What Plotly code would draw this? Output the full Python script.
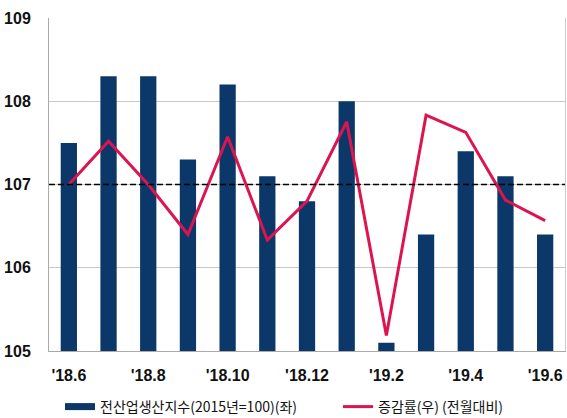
import plotly.graph_objects as go

months = ["'18.6", "'18.7", "'18.8", "'18.9", "'18.10", "'18.11", "'18.12",
          "'19.1", "'19.2", "'19.3", "'19.4", "'19.5", "'19.6"]
index_vals = [107.5, 108.3, 108.3, 107.3, 108.2, 107.1, 106.8,
              108.0, 105.1, 106.4, 107.4, 107.1, 106.4]
mom_change = [0.0, 0.78, 0.0, -0.9, 0.86, -1.0, -0.3,
              1.13, -2.72, 1.25, 0.94, -0.28, -0.65]
shown_ticks = months[::2]
left_ticks = [105, 106, 107, 108, 109]

bar_name = "전산업생산지수(2015년=100)(좌)"
line_name = "증감률(우) (전월대비)"

bar_color = "#0b3868"
line_color = "#dc1450"

fig = go.Figure()
fig.add_trace(go.Bar(x=months, y=index_vals, name=bar_name,
                     marker=dict(color=bar_color, line=dict(width=0)),
                     showlegend=False, yaxis="y"))
# legend stand-in for the bar series (wide rectangle symbol)
fig.add_trace(go.Scatter(x=[months[0]], y=[None], name=bar_name, mode="lines",
                         line=dict(color=bar_color, width=7), yaxis="y",
                         hoverinfo="skip", legend="legend"))
fig.add_trace(go.Scatter(x=months, y=mom_change, name=line_name, mode="lines",
                         line=dict(color=line_color, width=3), yaxis="y2",
                         legend="legend2"))

fig.add_shape(type="line", xref="paper", yref="y", x0=0, x1=1, y0=107, y1=107,
              line=dict(color="black", width=1.3, dash="6px,3px"), layer="above")

legend_font = dict(family="Noto Sans CJK KR", size=14, color="#111")
fig.update_layout(
    width=567, height=418,
    margin=dict(l=49, r=2, t=18, b=67, autoexpand=False),
    paper_bgcolor="white", plot_bgcolor="white",
    bargap=0.59,
    showlegend=True,
    legend=dict(orientation="h", xref="container", yref="container",
                x=60 / 567, y=1 - 407 / 418, xanchor="left", yanchor="middle",
                font=legend_font, bgcolor="rgba(0,0,0,0)"),
    legend2=dict(orientation="h", xref="container", yref="container",
                 x=338 / 567, y=1 - 407 / 418, xanchor="left", yanchor="middle",
                 font=legend_font, bgcolor="rgba(0,0,0,0)"),
    xaxis=dict(type="category", tickvals=shown_ticks, ticktext=shown_ticks,
               showgrid=False, showline=True, linecolor="#aaaaaa", linewidth=1,
               ticks="", ticklabelstandoff=10,
               tickfont=dict(family="Liberation Sans", size=16,
                             color="#111", weight="bold"),
               range=[-0.5, 12.5]),
    yaxis=dict(range=[105, 109], tickvals=left_ticks, ticktext=[str(t) for t in left_ticks],
               showgrid=True, gridcolor="#c8c8c8", gridwidth=1,
               showline=True, linecolor="#aaaaaa", linewidth=1, zeroline=False,
               ticks="", ticklabelstandoff=14,
               tickfont=dict(family="Liberation Sans", size=16, color="#111", weight="bold")),
    yaxis2=dict(range=[-3, 3], overlaying="y", side="right", showticklabels=False,
                showgrid=False, zeroline=False, showline=True, linecolor="#cccccc"),
)

fig.write_html("out.html")
